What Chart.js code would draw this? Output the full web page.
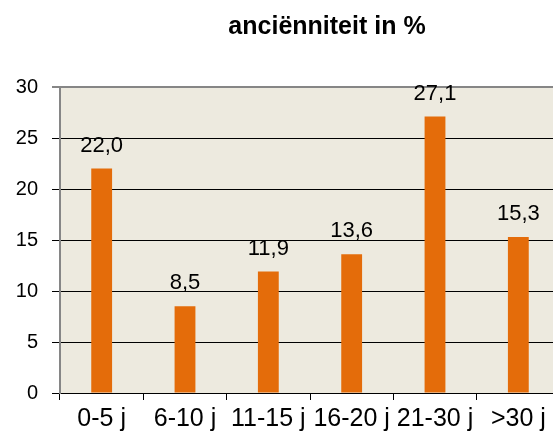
<!DOCTYPE html>
<html><head><meta charset="utf-8">
<script src="https://cdn.jsdelivr.net/npm/chart.js@4/dist/chart.umd.min.js"></script>
<style>html,body{margin:0;padding:0;overflow:hidden;background:#fff}#wrap{width:566px;height:442px}</style>
</head><body><div id="wrap"><canvas id="c" width="566" height="442"></canvas></div>
<script>
const categories = ["0-5 j","6-10 j","11-15 j","16-20 j","21-30 j",">30 j"];
const values = [22.0, 8.5, 11.9, 13.6, 27.1, 15.3];
const yTicks = [0,5,10,15,20,25,30];
const titleText = "anciënniteit in %";
const FONT = "'Liberation Sans', Arial, sans-serif";

const bgPlugin = {
  id:'bg',
  beforeDraw(chart){
    const {ctx, chartArea:a} = chart;
    ctx.save(); ctx.fillStyle = '#EDEADF';
    ctx.fillRect(a.left, a.top, a.right-a.left, a.bottom-a.top);
    ctx.restore();
  },
  afterDraw(chart){
    const {ctx} = chart;
    ctx.save();
    ctx.fillStyle = '#000';
    ctx.font = 'bold 25px ' + FONT;
    ctx.textAlign = 'center'; ctx.textBaseline = 'alphabetic';
    ctx.fillText(titleText, 327, 34);
    ctx.font = '22px ' + FONT;
    const meta = chart.getDatasetMeta(0);
    meta.data.forEach((bar,i)=>{
      ctx.fillText(values[i].toFixed(1).replace('.',','), bar.x, bar.y - 17);
    });
    ctx.restore();
  }
};

new Chart(document.getElementById('c'), {
  type:'bar',
  data:{labels:categories, datasets:[{data:values, backgroundColor:'#E46C0A', barPercentage:0.5, categoryPercentage:0.5}]},
  options:{
    responsive:false, animation:false,
    layout:{padding:{top:87, left:0, right:6, bottom:0}},
    plugins:{legend:{display:false}, tooltip:{enabled:false}, title:{display:false}},
    scales:{
      x:{
        offset:true,
        grid:{offset:true, drawOnChartArea:false, color:'#000', tickLength:7},
        border:{color:'#000', width:1},
        ticks:{color:'#000', font:{family:FONT, size:25}, padding:4, maxRotation:0, autoSkip:false},
        afterFit(s){ s.height = 49; }
      },
      y:{
        min:0, max:30,
        afterBuildTicks(s){ s.ticks = yTicks.map(v=>({value:v})); },
        grid:{color:(c)=> c.tick && c.tick.value===30 ? '#868686' : '#000', lineWidth:(c)=> c.tick && c.tick.value===30 ? 2 : 1, tickLength:8},
        border:{color:'#868686', width:2},
        ticks:{color:'#000', font:{family:FONT, size:20}, padding:14},
        afterFit(s){ s.width = 60; }
      }
    }
  },
  plugins:[bgPlugin]
});
</script></body></html>
